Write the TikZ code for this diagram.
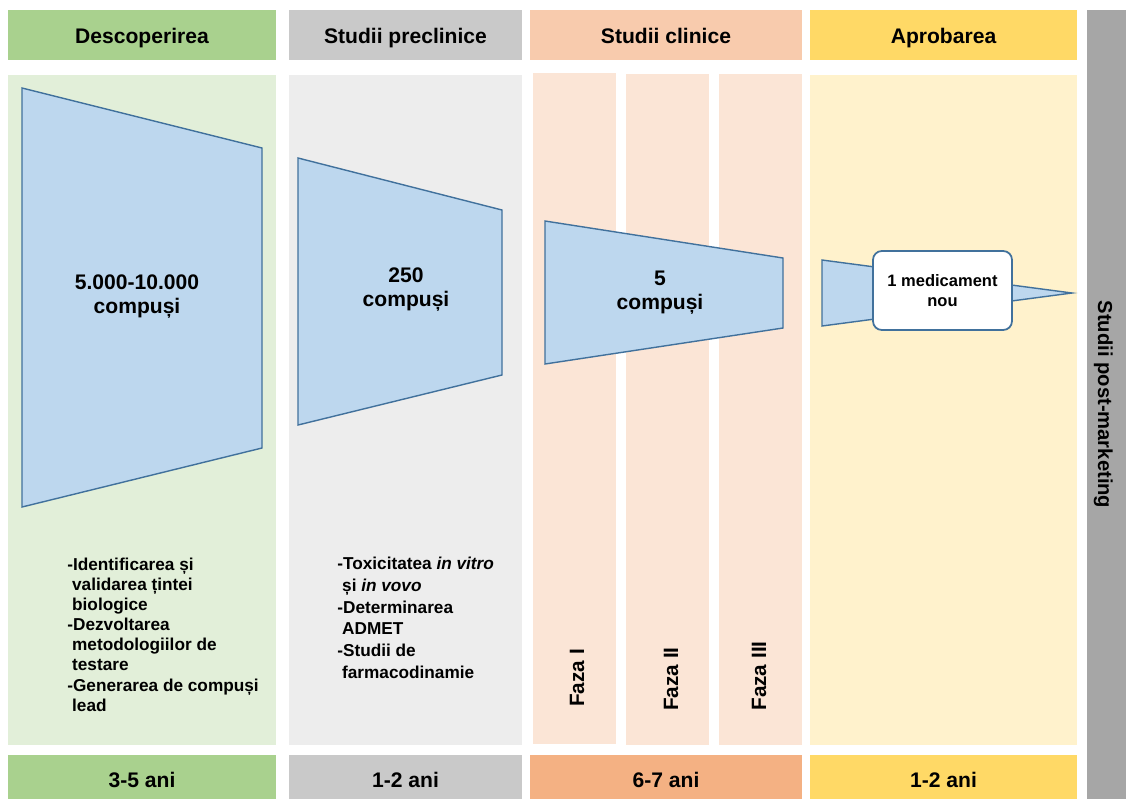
\documentclass[tikz,border=0pt]{standalone}
\usepackage{fontspec}
\setmainfont{Liberation Sans}
\usepackage{tikz}
\usetikzlibrary{positioning}
\definecolor{hdgreen}{RGB}{169,209,142}
\definecolor{bggreen}{RGB}{226,239,217}
\definecolor{hdgray}{RGB}{201,201,201}
\definecolor{bggray}{RGB}{237,237,237}
\definecolor{hdpeach}{RGB}{248,203,173}
\definecolor{bgpeach}{RGB}{251,229,214}
\definecolor{ftpeach}{RGB}{244,177,131}
\definecolor{hdyellow}{RGB}{255,217,102}
\definecolor{bgyellow}{RGB}{255,242,204}
\definecolor{pmgray}{RGB}{166,166,166}
\definecolor{fnlblue}{RGB}{189,215,238}
\definecolor{fnlline}{RGB}{65,113,156}

\begin{document}
\begin{tikzpicture}[
  x=0.02cm, y=-0.02cm,
  band/.style={inner sep=0pt, outer sep=0pt, minimum height=1cm, text height=9.6pt, text depth=0pt, align=center, font=\bfseries\fontsize{12}{14}\selectfont},
  foot/.style={band, minimum height=0.88cm, text height=11.8pt},
  panel/.style={inner sep=0pt, outer sep=0pt, minimum height=13.4cm},
  phase/.style={panel, fill=bgpeach, minimum width=1.66cm, minimum height=13.42cm},
  funnel/.style={draw=fnlline, fill=fnlblue, line width=0.8pt, line join=miter},
  count/.style={align=center, inner sep=0pt, font=\bfseries\fontsize{12}{13.7}\selectfont},
  notes/.style={align=left, inner sep=0pt, anchor=north west, font=\bfseries\fontsize{9.8}{11.4}\selectfont},
  phlabel/.style={rotate=90, inner sep=0pt, font=\bfseries\fontsize{11.8}{14}\selectfont},
  drug/.style={draw=fnlline, line width=1pt, fill=white, rounded corners=5pt, minimum width=2.78cm, minimum height=1.58cm, align=center, font=\bfseries\fontsize{9.4}{11}\selectfont}
]
\useasboundingbox (0,0) rectangle (1126,799);

% headers
\node[band, fill=hdgreen, minimum width=5.36cm] (hdisc) at (142,35) {Descoperirea};
\node[band, fill=hdgray, minimum width=4.66cm] (hpre) at (405.5,35) {Studii preclinice};
\node[band, fill=hdpeach, minimum width=5.44cm] (hclin) at (666,35) {Studii clinice};
\node[band, fill=hdyellow, minimum width=5.34cm] (happ) at (943.5,35) {Aprobarea};

% body panels
\node[panel, fill=bggreen, minimum width=5.36cm] (bdisc) at (142,410) {};
\node[panel, fill=bggray, minimum width=4.66cm] (bpre) at (405.5,410) {};
\node[phase] (ph1) at (574.5,408.5) {};
\node[phase] (ph2) at (667.5,409.5) {};
\node[phase] (ph3) at (760,409.5) {};
\node[panel, fill=bgyellow, minimum width=5.34cm] (bapp) at (943.5,410) {};

% post-marketing bar
\node[band, fill=pmgray, rotate=-90, minimum width=15.78cm, minimum height=0.78cm, font=\bfseries\fontsize{11.5}{14}\selectfont] (post) at (1106.5,404.5) {Studii post-marketing};

% footers
\node[foot, fill=hdgreen, minimum width=5.36cm] (fdisc) at (142,777) {3-5 ani};
\node[foot, fill=hdgray, minimum width=4.66cm] (fpre) at (405.5,777) {1-2 ani};
\node[foot, fill=ftpeach, minimum width=5.44cm] (fclin) at (666,777) {6-7 ani};
\node[foot, fill=hdyellow, minimum width=5.34cm] (fapp) at (943.5,777) {1-2 ani};

% funnels
\draw[funnel] (22,88) -- (262,148) -- (262,448) -- (22,507) -- cycle;
\draw[funnel] (298,158) -- (502,210) -- (502,375) -- (298,425) -- cycle;
\draw[funnel] (545,221) -- (783,258) -- (783,328) -- (545,364) -- cycle;
\draw[funnel] (822,260) -- (1072,293) -- (822,326) -- cycle;

\node[count] (ndisc) at (137,297) {5.000-10.000\\compuși};
\node[count] (npre) at (406,290) {250\\compuși};
\node[count] (nclin) at (660,293) {5\\compuși};
\node[drug] (newdrug) at (942.5,290.5) {1 medicament\\nou};

% notes
\node[notes] (tdisc) at (67,558) {-Identificarea și\\\hspace*{.28em}validarea țintei\\\hspace*{.28em}biologice\\-Dezvoltarea\\\hspace*{.28em}metodologiilor de\\\hspace*{.28em}testare\\-Generarea de compuși\\\hspace*{.28em}lead};
\node[notes, font=\bfseries\fontsize{9.8}{12.35}\selectfont] (tpre) at (337,557) {-Toxicitatea \textit{in vitro}\\\hspace*{.28em}și \textit{in vovo}\\-Determinarea\\\hspace*{.28em}ADMET\\-Studii de\\\hspace*{.28em}farmacodinamie};

% phases
\node[phlabel] (lph1) at (577,678) {Faza I};
\node[phlabel] (lph2) at (671,679) {Faza II};
\node[phlabel] (lph3) at (759,676) {Faza III};
\end{tikzpicture}
\end{document}
